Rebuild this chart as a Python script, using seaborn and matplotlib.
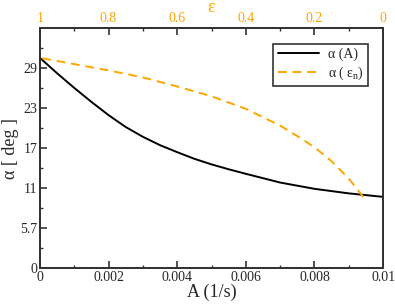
import numpy as np
import pandas as pd
import matplotlib
matplotlib.use("Agg")
import matplotlib.pyplot as plt
import seaborn as sns
from matplotlib.ticker import FixedLocator, MultipleLocator

# alpha as a function of the rate A (bottom axis)
rate = [0.0, 0.0005, 0.001, 0.0015, 0.002, 0.0025, 0.003, 0.0035, 0.004,
        0.0045, 0.005, 0.0055, 0.006, 0.007, 0.008, 0.009, 0.01]
alpha_rate = [30.1, 27.9, 25.8, 23.8, 21.9, 20.2, 18.8, 17.6, 16.6,
              15.65, 14.85, 14.15, 13.5, 12.25, 11.35, 10.7, 10.2]

# alpha as a function of epsilon_n (top axis, reversed)
eps = [1.0, 0.9, 0.8, 0.7, 0.6, 0.5, 0.4, 0.3, 0.25, 0.2, 0.15, 0.1, 0.058]
alpha_eps = [30.1, 29.2, 28.3, 27.3, 26.0, 24.6, 22.8, 20.4, 18.9, 17.3,
             15.3, 12.8, 10.2]

# y ticks every 0.1 rad, shown in degrees
y_ticks = np.degrees(np.arange(0, 0.6, 0.1))
y_labels = ["0", "5.7", "11", "17", "23", "29"]
x_ticks = [0, 0.002, 0.004, 0.006, 0.008, 0.01]
x_labels = ["0", "0.002", "0.004", "0.006", "0.008", "0.01"]
top_ticks = [1, 0.8, 0.6, 0.4, 0.2, 0]
top_labels = ["1", "0.8", "0.6", "0.4", "0.2", "0"]

sns.set_style("ticks")
plt.rcParams["font.family"] = ["Liberation Serif", "DejaVu Serif"]
plt.rcParams["mathtext.fontset"] = "custom"
plt.rcParams["mathtext.rm"] = "Liberation Serif"
plt.rcParams["mathtext.it"] = "Liberation Serif"

orange = "#FFA500"
axis_col = "0.2"

fig = plt.figure(figsize=(3.95, 3.04), dpi=100)
ax = fig.add_axes([0.101, 0.118, 0.869, 0.79])

sns.lineplot(x=rate, y=alpha_rate, ax=ax, color="black", lw=1.4,
             label="α (A)")
ax.set_xlim(0, 0.01)
ax.set_ylim(0, np.degrees(0.6))
ax.xaxis.set_major_locator(FixedLocator(x_ticks))
ax.set_xticklabels(x_labels)
ax.xaxis.set_minor_locator(MultipleLocator(0.001))
ax.yaxis.set_major_locator(FixedLocator(y_ticks))
ax.set_yticklabels(y_labels)
ax.yaxis.set_minor_locator(FixedLocator(y_ticks + np.degrees(0.05)))
ax.tick_params(which="both", direction="in", top=False, right=False,
               labelsize=10, color=axis_col, pad=2)
ax.tick_params(which="major", length=5, width=1.2)
ax.tick_params(which="minor", length=2.5, width=1.0)
ax.set_xlabel("A (1/s)", fontsize=13, labelpad=0)
ax.set_ylabel("α [ deg ]", fontsize=13, labelpad=1)

ax2 = ax.twiny()
sns.lineplot(x=eps, y=alpha_eps, ax=ax2, color=orange, lw=1.4,
             linestyle="--", label="α ( ε$_{\\rm n}$)")
ax2.lines[0].set_dashes([4.5, 3])
ax2.set_xlim(1, 0)
ax2.xaxis.set_major_locator(FixedLocator(top_ticks))
ax2.set_xticklabels(top_labels)
ax2.xaxis.set_minor_locator(MultipleLocator(0.1))
ax2.tick_params(which="both", direction="in", labelsize=10,
                color=axis_col, labelcolor=orange, pad=2)
ax2.tick_params(which="major", length=5, width=1.2)
ax2.tick_params(which="minor", length=2.5, width=1.0)
ax2.set_xlabel("ε", fontsize=13, color=orange, labelpad=0)

for a in (ax, ax2):
    for s in a.spines.values():
        s.set_color(axis_col)
        s.set_linewidth(1.4)

h1, l1 = ax.get_legend_handles_labels()
h2, l2 = ax2.get_legend_handles_labels()
ax.get_legend().remove()
leg = ax2.legend(h1 + h2, l1 + l2, loc="upper right",
                 bbox_to_anchor=(0.955, 0.935), fontsize=10,
                 fancybox=False, framealpha=1, edgecolor=axis_col,
                 handlelength=3.0, borderpad=0.3, labelspacing=0.25,
                 handletextpad=0.6, borderaxespad=0)
leg.get_frame().set_linewidth(1.2)

fig.savefig("out.png", dpi=100)
